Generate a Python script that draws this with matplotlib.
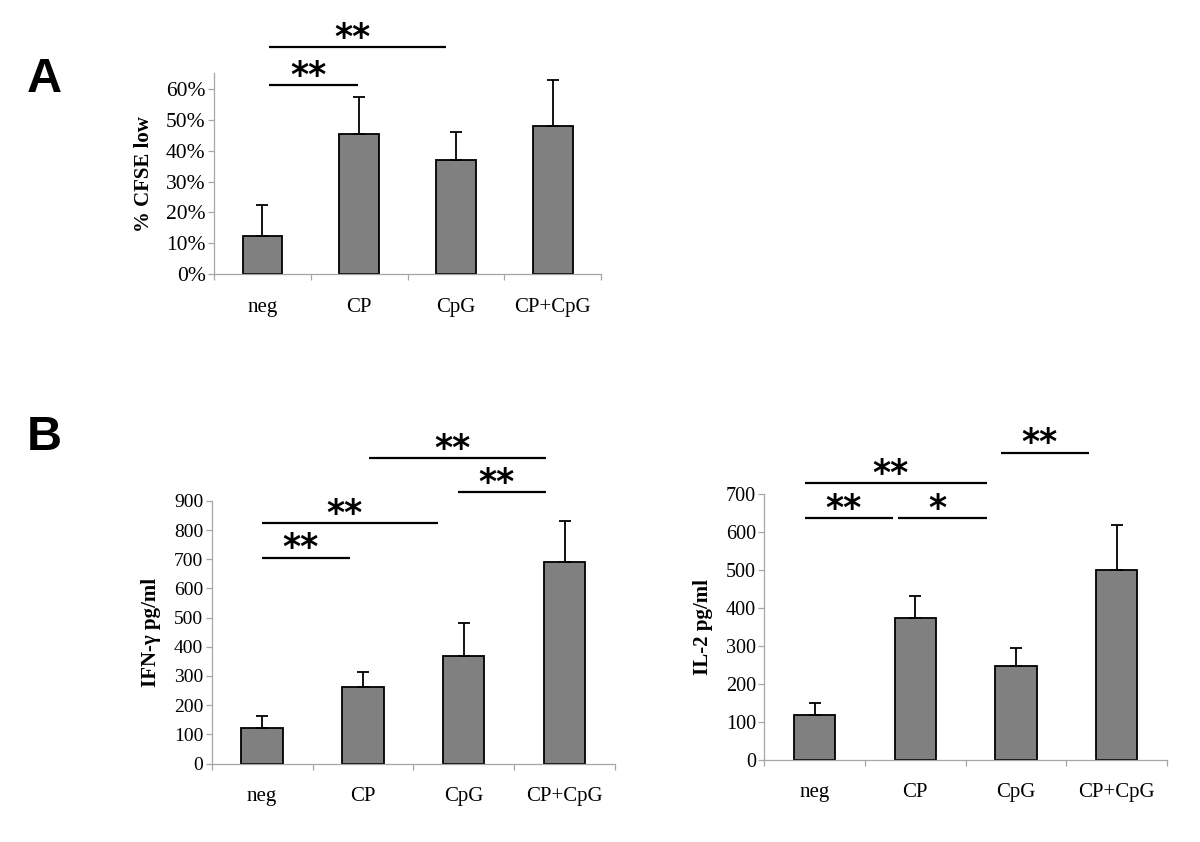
import numpy as np
import matplotlib
matplotlib.use("Agg")
import matplotlib.pyplot as plt
from matplotlib.ticker import PercentFormatter, FixedLocator

plt.rcParams['font.family'] = ['Liberation Serif', 'DejaVu Serif']

# data
groups = ["neg", "CP", "CpG", "CP+CpG"]

cfse = [0.124, 0.454, 0.371, 0.480]
cfse_sd = [0.099, 0.118, 0.088, 0.148]

ifn = [122, 261, 368, 692]
ifn_sd = [40, 52, 114, 139]

il2 = [119, 374, 248, 499]
il2_sd = [30, 58, 47, 120]

# significance bars: (x start, x end, height, label)
sig_a = [(0.07, 0.99, 0.611, "**"), (0.07, 1.90, 0.734, "**")]
sig_ifn = [(0.0, 0.87, 706, "**"), (0.0, 1.74, 823, "**"),
           (1.94, 2.82, 930, "**"), (1.06, 2.82, 1047, "**")]
sig_il2 = [(-0.10, 0.78, 636, "**"), (0.83, 1.71, 636, "*"),
           (-0.10, 1.71, 728, "**"), (1.85, 2.73, 809, "**")]

gray_axis = "#a6a6a6"


def draw_panel(ax, vals, sd, ymax, yticks, ylabel, tick_size, sig):
    x = np.arange(len(groups))
    ax.bar(x, vals, width=0.41, color="#808080", edgecolor="black", linewidth=1.3, zorder=2)
    ax.errorbar(x, vals, yerr=[np.zeros(len(sd)), sd], fmt="none", ecolor="black",
                elinewidth=1.3, capsize=4, capthick=1.3, zorder=3)
    ax.set_xlim(-0.5, len(groups) - 0.5)
    ax.set_ylim(0, ymax)
    ax.set_yticks(yticks)
    ax.set_xticks(x)
    ax.set_xticklabels(groups, fontsize=15)
    ax.xaxis.set_minor_locator(FixedLocator(np.arange(-0.5, len(groups), 1.0)))
    ax.tick_params(axis="x", which="major", length=0, pad=17)
    ax.tick_params(axis="x", which="minor", length=4.5, color=gray_axis, width=0.9)
    ax.tick_params(axis="y", length=4, color=gray_axis, width=0.9, labelsize=tick_size, pad=2)
    for s in ["top", "right"]:
        ax.spines[s].set_visible(False)
    for s in ["left", "bottom"]:
        ax.spines[s].set_color(gray_axis)
        ax.spines[s].set_linewidth(0.9)
    ax.set_ylabel(ylabel, fontsize=15, fontweight="bold", labelpad=9)
    for x0, x1, h, lab in sig:
        ax.plot([x0, x1], [h, h], color="black", lw=1.6, clip_on=False, solid_capstyle="butt")
        ax.annotate(lab, xy=((x0 + x1) / 2, h), xytext=(-4, -0.5), textcoords="offset points",
                    ha="center", va="baseline", fontsize=25, fontweight="bold",
                    family=["DejaVu Sans"], annotation_clip=False)


fig = plt.figure(figsize=(12, 8.42), dpi=100)

ax1 = fig.add_axes([0.17833, 0.67423, 0.32275, 0.23872])
draw_panel(ax1, cfse, cfse_sd, 0.65, np.arange(0, 0.61, 0.1), "% CFSE low", 15.5, sig_a)
ax1.yaxis.set_major_formatter(PercentFormatter(1.0, decimals=0))

ax2 = fig.add_axes([0.17642, 0.09323, 0.33608, 0.31176])
draw_panel(ax2, ifn, ifn_sd, 900, np.arange(0, 901, 100), "IFN-γ pg/ml", 14, sig_ifn)

ax3 = fig.add_axes([0.63692, 0.09774, 0.33558, 0.31556])
draw_panel(ax3, il2, il2_sd, 700, np.arange(0, 701, 100), "IL-2 pg/ml", 14.5, sig_il2)

fig.text(0.0225, 0.8907, "A", fontsize=35, fontweight="bold",
         family=["Liberation Sans", "DejaVu Sans"], ha="left", va="baseline")
fig.text(0.0225, 0.4656, "B", fontsize=35, fontweight="bold",
         family=["Liberation Sans", "DejaVu Sans"], ha="left", va="baseline")

fig.savefig("out.png", dpi=100)
